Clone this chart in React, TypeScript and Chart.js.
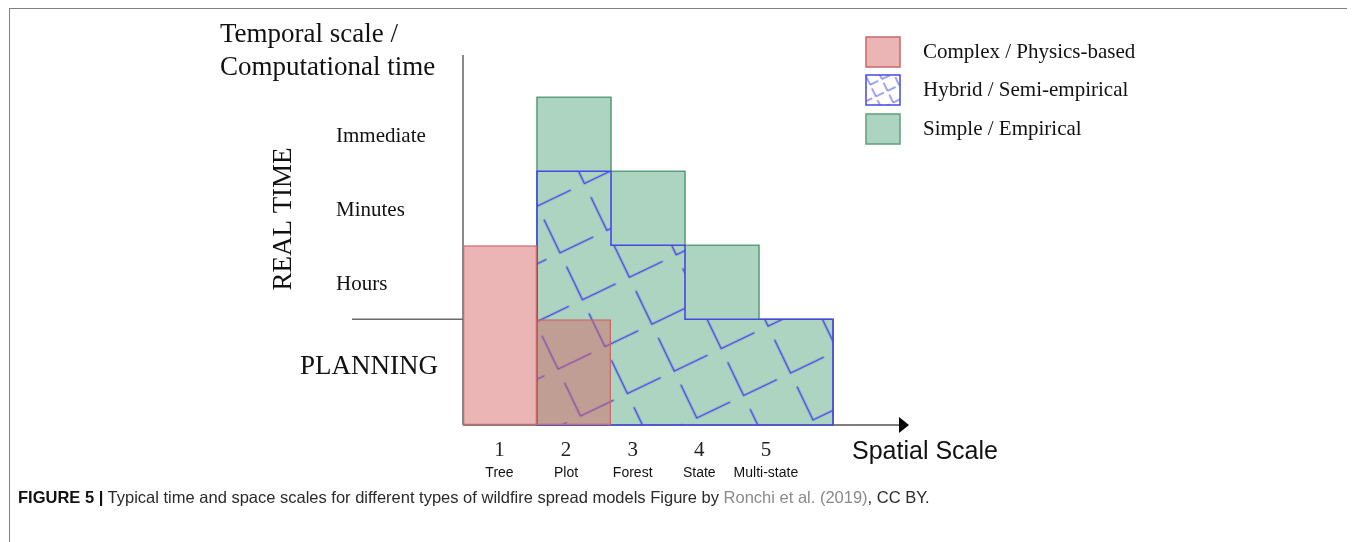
import React, { useEffect, useRef } from "react";
import { Chart, registerables } from "chart.js";

Chart.register(...registerables);

// ---- data ----
const CATEGORIES = ["1", "2", "3", "4", "5", ""];
const TICK_POS = [1, 2, 3, 4, 5];
const TICK_NUMBERS = ["1", "2", "3", "4", "5"];
const TICK_NAMES = ["Tree", "Plot", "Forest", "State", "Multi-state"];
const LEVEL_NAMES = ["PLANNING", "Hours", "Minutes", "Immediate"];
const LEVEL_BOUNDS = [0, 1.43, 2.43, 3.43, 4.43];
// top level reached by each model type per spatial scale (index into LEVEL_BOUNDS)
const COMPLEX_TOP = [2, 1, null, null, null, null];
const HYBRID_TOP = [null, 3, 2, 1, 1, null];
const SIMPLE_TOP = [null, 4, 3, 2, 1, null];
const SERIES_NAMES = ["Complex / Physics-based", "Hybrid / Semi-empirical", "Simple / Empirical"];
const Y_TITLE = ["Temporal scale /", "Computational time"];
const X_TITLE = "Spatial Scale";
const REAL_TIME = "REAL TIME";

const toRange = (arr: (number | null)[]) =>
  arr.map((v) => (v == null ? null : [0, LEVEL_BOUNDS[v]]));

const SERIF = '"Liberation Serif", "Times New Roman", serif';
const SANS = '"Liberation Sans", Arial, sans-serif';

const RED_FILL = "rgba(215,100,100,0.48)";
const RED_LINE = "#c86868";
const GREEN_FILL = "rgba(90,170,130,0.5)";
const GREEN_LINE = "#5c9f7c";
const BLUE_LINE = "#4848e4";

function makeHatch(
  ctx: CanvasRenderingContext2D,
  cell: number,
  len: number,
  lw: number,
  tx: number,
  ty: number
) {
  const c = document.createElement("canvas");
  c.width = cell;
  c.height = cell;
  const g = c.getContext("2d")!;
  g.strokeStyle = BLUE_LINE;
  g.lineWidth = lw;
  const x0 = (cell - len) / 2;
  const y1 = (cell + len) / 2;
  g.beginPath();
  g.moveTo(x0, y1 - len);
  g.lineTo(x0, y1);
  g.lineTo(x0 + len, y1);
  g.stroke();
  const p = ctx.createPattern(c, "repeat")!;
  p.setTransform(new DOMMatrix().translateSelf(tx, ty).rotateSelf(-25.6));
  return p;
}

const LABEL_MIN = 0.452;
const LABEL_MAX = 7.119;

export default function App() {
  const ref = useRef<HTMLCanvasElement | null>(null);

  useEffect(() => {
    const canvas = ref.current!;
    const ctx = canvas.getContext("2d")!;
    const hatch = makeHatch(ctx, 52, 37, 1.6, 524, 207);
    const smallHatch = makeHatch(ctx, 13, 9, 1, 0, 0);

    const outlinePlugin = {
      id: "stepOutline",
      afterDatasetDraw(chart: any, args: any) {
        const i = args.index;
        if (i === 0) return;
        const meta = chart.getDatasetMeta(i);
        const bars: any[] = [];
        meta.data.forEach((el: any, k: number) => {
          const raw = chart.data.datasets[i].data[k];
          if (raw == null) return;
          const p = el.getProps(["x", "y", "base", "width"], true);
          bars.push({
            l: p.x - p.width / 2,
            r: p.x + p.width / 2,
            top: Math.min(p.y, p.base),
            bot: Math.max(p.y, p.base),
          });
        });
        if (!bars.length) return;
        const c = chart.ctx;
        c.save();
        c.strokeStyle = i === 1 ? BLUE_LINE : GREEN_LINE;
        c.lineWidth = 1.6;
        c.beginPath();
        c.moveTo(bars[0].l, bars[0].bot);
        bars.forEach((b) => {
          c.lineTo(b.l, b.top);
          c.lineTo(b.r, b.top);
        });
        const last = bars[bars.length - 1];
        c.lineTo(last.r, last.bot);
        c.closePath();
        c.stroke();
        c.restore();
      },
    };

    const decorPlugin = {
      id: "decor",
      beforeDatasetsDraw(chart: any) {
        const c = chart.ctx;
        const a = chart.chartArea;
        c.save();
        // y axis line
        c.strokeStyle = "#8a8a8a";
        c.lineWidth = 2;
        c.beginPath();
        c.moveTo(a.left, a.top);
        c.lineTo(a.left, a.bottom);
        c.stroke();
        // x axis with arrow
        c.strokeStyle = "#555";
        c.lineWidth = 1.5;
        c.beginPath();
        c.moveTo(a.left, a.bottom);
        c.lineTo(a.right - 6, a.bottom);
        c.stroke();
        c.fillStyle = "#000";
        c.beginPath();
        c.moveTo(a.right - 8, a.bottom - 8);
        c.lineTo(a.right + 2, a.bottom);
        c.lineTo(a.right - 8, a.bottom + 8);
        c.closePath();
        c.fill();
        // separator planning / real time
        const ys = chart.scales.y;
        const sepY = ys.getPixelForValue(LEVEL_BOUNDS[1]);
        c.strokeStyle = "#6a6a6a";
        c.lineWidth = 1.5;
        c.beginPath();
        c.moveTo(a.left - 111, sepY);
        c.lineTo(a.left, sepY);
        c.stroke();
        c.restore();
      },
      afterDraw(chart: any) {
        const c = chart.ctx;
        const a = chart.chartArea;
        const ys = chart.scales.y;
        c.save();
        c.fillStyle = "#111";
        c.textBaseline = "middle";
        c.textAlign = "left";
        // y title
        c.font = `27px ${SERIF}`;
        c.fillText(Y_TITLE[0], a.left - 243, 26);
        c.fillText(Y_TITLE[1], a.left - 243, 59);
        // level labels
        c.font = `21px ${SERIF}`;
        for (let i = 1; i < LEVEL_NAMES.length; i++) {
          const y = ys.getPixelForValue((LEVEL_BOUNDS[i] + LEVEL_BOUNDS[i + 1]) / 2) + 2;
          c.fillText(LEVEL_NAMES[i], a.left - 127, y);
        }
        const sepY = ys.getPixelForValue(LEVEL_BOUNDS[1]);
        c.font = `27px ${SERIF}`;
        c.fillText(LEVEL_NAMES[0], a.left - 163, sepY + 48);
        // REAL TIME rotated
        c.save();
        c.translate(a.left - 179, 210);
        c.rotate(-Math.PI / 2);
        c.textAlign = "center";
        c.fillText(REAL_TIME, 0, 0);
        c.restore();
        // x title
        c.font = `25px ${SANS}`;
        c.fillStyle = "#111";
        c.fillText(X_TITLE, a.left + 389, a.bottom + 27);
        // legend
        const fills = [RED_FILL, smallHatch, GREEN_FILL];
        const lines = [RED_LINE, BLUE_LINE, GREEN_LINE];
        const bx = a.left + 403;
        const tops = [28, 66, 105];
        c.font = `21px ${SERIF}`;
        for (let i = 0; i < 3; i++) {
          const ty = tops[i];
          c.fillStyle = "#fff";
          c.fillRect(bx, ty, 34, 30);
          c.fillStyle = fills[i] as any;
          c.fillRect(bx, ty, 34, 30);
          c.strokeStyle = lines[i];
          c.lineWidth = 1.5;
          c.strokeRect(bx, ty, 34, 30);
          c.fillStyle = "#111";
          c.fillText(SERIES_NAMES[i], bx + 57, ty + 15);
        }
        c.restore();
      },
    };

    const labelAxis = (weight: number, height: number, padding: number, font: any, color: string, names: string[]) => ({
      type: "linear",
      axis: "x",
      position: "bottom",
      weight,
      offset: false,
      bounds: "data",
      min: LABEL_MIN,
      max: LABEL_MAX,
      grid: { display: false, drawTicks: false, offset: false },
      border: { display: false },
      afterBuildTicks: (s: any) => {
        s.ticks = TICK_POS.map((v) => ({ value: v }));
      },
      afterFit: (s: any) => {
        s.height = height;
      },
      ticks: {
        autoSkip: false,
        maxRotation: 0,
        padding,
        color,
        font,
        callback: (v: any) => names[TICK_POS.indexOf(Number(v))] ?? "",
      },
    });

    const common = {
      grouped: false,
      barPercentage: 1,
      categoryPercentage: 1,
      inflateAmount: 0,
    };

    const chart = new Chart(canvas, {
      type: "bar",
      data: {
        labels: CATEGORIES,
        datasets: [
          {
            label: SERIES_NAMES[0],
            data: toRange(COMPLEX_TOP) as any,
            backgroundColor: RED_FILL,
            borderColor: RED_LINE,
            borderWidth: ((c: any) =>
              c.dataIndex === 1 ? { top: 1.5, right: 1.5, bottom: 1.5, left: 0 } : 1.5) as any,
            borderSkipped: false,
            ...common,
          },
          {
            label: SERIES_NAMES[1],
            data: toRange(HYBRID_TOP) as any,
            backgroundColor: hatch as any,
            borderWidth: 0,
            ...common,
          },
          {
            label: SERIES_NAMES[2],
            data: toRange(SIMPLE_TOP) as any,
            backgroundColor: GREEN_FILL,
            borderWidth: 0,
            ...common,
          },
        ] as any,
      },
      options: {
        responsive: false,
        animation: false,
        events: [],
        layout: { padding: { left: 453, top: 46, right: 440, bottom: 4 } },
        plugins: {
          legend: { display: false },
          tooltip: { enabled: false },
          title: { display: false },
        },
        scales: {
          x: { type: "category", display: false, offset: true },
          y: { type: "linear", display: false, min: 0, max: 5 },
          xn: labelAxis(1, 36, 13, { family: SERIF, size: 21 }, "#222", TICK_NUMBERS),
          xl: labelAxis(2, 24, 4, { family: SANS, size: 14 }, "#111", TICK_NAMES),
        } as any,
      },
      plugins: [outlinePlugin, decorPlugin],
    });
    return () => chart.destroy();
  }, []);

  return (
    <div
      style={{
        position: "relative",
        marginLeft: 1,
        width: 1337,
        height: 560,
        border: "1px solid #808080",
        borderBottom: "none",
        boxSizing: "content-box",
      }}
    >
      <canvas
        ref={ref}
        width={1337}
        height={480}
        style={{ position: "absolute", left: 0, top: 0, width: 1337, height: 480 }}
      />
      <div
        style={{
          position: "absolute",
          left: 8,
          top: 479,
          fontFamily: SANS,
          fontSize: 16.5,
          lineHeight: "18px",
          color: "#2a2a2a",
          whiteSpace: "nowrap",
        }}
      >
        <b style={{ color: "#111" }}>FIGURE 5 |</b> Typical time and space scales for different
        types of wildfire spread models Figure by{" "}
        <span style={{ color: "#8a8a8a" }}>Ronchi et al. (2019)</span>, CC BY.
      </div>
    </div>
  );
}
